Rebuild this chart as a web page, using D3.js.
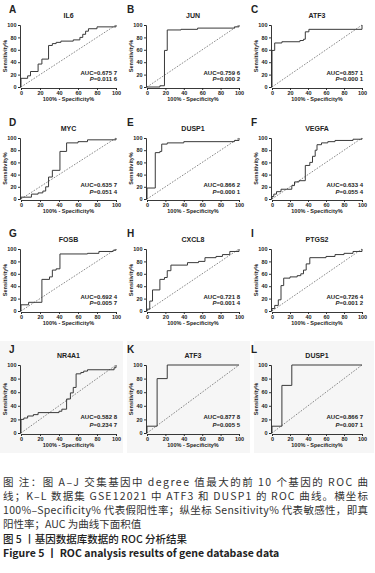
<!DOCTYPE html>
<html>
<head>
<meta charset="utf-8">
<script src="https://cdn.jsdelivr.net/npm/d3@7"></script>
<style>
  body { margin: 0; background: #fff; }
  svg { display: block; }
  .tick text { font-family: Arial, "Liberation Sans", sans-serif; font-size: 5.5px; font-weight: bold; fill: #222; }
  .domain, .tick line { stroke: #222; stroke-width: 0.9; }
</style>
</head>
<body>
<svg width="375" height="573"></svg>
<script>
// panel letters, gene names and stats
const letters = ["A","B","C","D","E","F","G","H","I","J","K","L"];
const genes = ["IL6","JUN","ATF3","MYC","DUSP1","VEGFA","FOSB","CXCL8","PTGS2","NR4A1","ATF3","DUSP1"];
const aucs = ["0.675 7","0.759 6","0.857 1","0.635 7","0.866 2","0.633 4","0.692 4","0.721 8","0.726 4","0.582 8","0.877 8","0.866 7"];
const pvals = ["0.011 6","0.000 2","0.000 1","0.051 4","0.000 1","0.055 4","0.005 7","0.001 4","0.001 2","0.234 7","0.005 5","0.007 1"];
const ticks = [0, 20, 40, 60, 80, 100];

// ROC step corners (100% - specificity, sensitivity)
const fprA = [0,0,7,10,18,22,29,33,37,42,55,62,65,68,71,80,100];
const tprA = [0,14,18,25,37,45,67,70,72,74,76,80,85,90,94,97,100];
const fprB = [0,14,19,22,37,55,95,100];
const tprB = [0,2,59,92,93,95,97,100];
const fprC = [0,0,3,11,31,35,37,41,100];
const tprC = [0,59,71,73,75,77,89,93,100];
const fprD = [0,0,11,18,23,26,29,33,41,48,60,70,100];
const tprD = [0,3,8,10,13,20,36,47,78,92,94,97,100];
const fprE = [0,0,9,14,16,22,40,95,100];
const tprE = [0,18,76,78,90,92,94,96,100];
const fprF = [0,0,2,5,10,22,25,30,37,42,45,48,50,55,62,70,90,100];
const tprF = [0,4,8,12,16,22,28,30,55,60,70,80,89,92,94,96,98,100];
const fprG = [0,0,8,22,30,33,37,41,70,82,97,100];
const tprG = [0,10,14,51,55,66,68,92,93,96,98,100];
const fprH = [0,0,3,6,14,19,22,26,44,56,63,75,82,90,100];
const tprH = [0,3,16,34,51,54,65,74,78,80,86,88,91,96,100];
const fprI = [0,0,3,7,10,13,20,28,32,35,38,42,60,70,80,90,100];
const tprI = [0,4,9,18,41,53,55,57,60,66,76,86,88,91,93,96,100];
const fprJ = [0,0,3,7,13,18,40,43,48,52,55,58,63,66,70,98,100];
const tprJ = [0,20,22,25,27,30,32,35,50,59,67,87,89,91,93,96,100];
const fprK = [0,0,11,22,100];
const tprK = [0,10,80,100,100];
const fprL = [0,0,11,22,100];
const tprL = [0,10,70,100,100];

const fprs = [fprA,fprB,fprC,fprD,fprE,fprF,fprG,fprH,fprI,fprJ,fprK,fprL];
const tprs = [tprA,tprB,tprC,tprD,tprE,tprF,tprG,tprH,tprI,tprJ,tprK,tprL];

const captionLines = [
  "图 注：图 A–J 交集基因中 degree 值最大的前 10 个基因的 ROC 曲",
  "线；K–L 数据集 GSE12021 中 ATF3 和 DUSP1 的 ROC 曲线。横坐标",
  "100%–Specificity% 代表假阳性率；纵坐标 Sensitivity% 代表敏感性，即真",
  "阳性率；AUC 为曲线下面积值"
];
const figTitleCn = "图 5 丨基因数据库数据的 ROC 分析结果";
const figTitleEn = "Figure 5 丨 ROC analysis results of gene database data";

const svg = d3.select("svg");
const font = "Arial, 'Liberation Sans', sans-serif";

// plot frames for each column / row
const cols = [[21, 116], [147, 239], [272, 362]];
const rows = [[25, 87], [138, 199], [249, 311], [365, 433]];
const letterX = [9, 127, 251];

// faint background behind the bottom row
[[0, 123], [127, 250], [254, 374]].forEach(c => {
  svg.append("rect")
    .attr("x", c[0]).attr("y", 341)
    .attr("width", c[1] - c[0]).attr("height", 112)
    .attr("fill", "#f6f6f6");
});

letters.forEach((letter, i) => {
  const c = cols[i % 3], r = rows[Math.floor(i / 3)];
  const x = d3.scaleLinear().domain([0, 100]).range(c);
  const y = d3.scaleLinear().domain([0, 100]).range([r[1], r[0]]);
  const g = svg.append("g");

  // reference diagonal
  g.append("line")
    .attr("x1", x(0)).attr("y1", y(0))
    .attr("x2", x(100)).attr("y2", y(100))
    .attr("stroke", "#555").attr("stroke-width", 0.7)
    .attr("stroke-dasharray", "1.6,1.4");

  // ROC curve
  const pts = fprs[i].map((f, k) => [f, tprs[i][k]]);
  g.append("path")
    .datum(pts)
    .attr("fill", "none")
    .attr("stroke", "#3a3a3a")
    .attr("stroke-width", 1)
    .attr("d", d3.line().x(d => x(d[0])).y(d => y(d[1])).curve(d3.curveStepAfter));

  g.append("g")
    .attr("transform", `translate(0,${r[1] + 1})`)
    .call(d3.axisBottom(x).tickValues(ticks).tickSize(2).tickPadding(1.5));
  g.append("g")
    .attr("transform", `translate(${c[0] - 1},0)`)
    .call(d3.axisLeft(y).tickValues(ticks).tickSize(2).tickPadding(1.5));

  // titles
  g.append("text")
    .attr("x", (c[0] + c[1]) / 2).attr("y", r[0] - 7)
    .attr("text-anchor", "middle")
    .attr("font-family", font).attr("font-size", 7).attr("font-weight", "bold")
    .attr("fill", "#222")
    .text(genes[i]);
  g.append("text")
    .attr("x", letterX[i % 3]).attr("y", r[0] - 12)
    .attr("font-family", font).attr("font-size", 10).attr("font-weight", "bold")
    .attr("fill", "#222")
    .text(letter);
  g.append("text")
    .attr("x", (c[0] + c[1]) / 2).attr("y", r[1] + 14)
    .attr("text-anchor", "middle")
    .attr("font-family", font).attr("font-size", 5.5).attr("font-weight", "bold")
    .attr("fill", "#222")
    .text("100% - Specificity%");
  g.append("text")
    .attr("transform", `translate(${c[0] - 14},${(r[0] + r[1]) / 2}) rotate(-90)`)
    .attr("text-anchor", "middle")
    .attr("font-family", font).attr("font-size", 5.5).attr("font-weight", "bold")
    .attr("fill", "#222")
    .text("Sensitivity%");

  // AUC and P
  g.append("text")
    .attr("x", x(100) + 1).attr("y", y(20))
    .attr("text-anchor", "end")
    .attr("font-family", font).attr("font-size", 6).attr("font-weight", "bold")
    .attr("fill", "#222")
    .text("AUC=" + aucs[i]);
  const pt = g.append("text")
    .attr("x", x(100) + 1).attr("y", y(9))
    .attr("text-anchor", "end")
    .attr("font-family", font).attr("font-size", 6).attr("font-weight", "bold")
    .attr("fill", "#222");
  pt.append("tspan").attr("font-style", "italic").text("P");
  pt.append("tspan").text("=" + pvals[i]);
});

// caption
const cjk = "'Noto Sans CJK SC', 'Noto Sans', sans-serif";
captionLines.forEach((line, i) => {
  const t = svg.append("text")
    .attr("x", 3).attr("y", 486 + i * 14)
    .attr("font-family", cjk).attr("font-size", 10.5)
    .attr("fill", "#333")
    .text(line);
  if (i < 3) t.attr("textLength", 365).attr("lengthAdjust", "spacing");
});
svg.append("text")
  .attr("x", 3).attr("y", 543)
  .attr("font-family", cjk).attr("font-size", 10.5).attr("font-weight", 500)
  .attr("fill", "#222")
  .text(figTitleCn);
svg.append("text")
  .attr("x", 3).attr("y", 557)
  .attr("font-family", cjk).attr("font-size", 10.5).attr("font-weight", "bold")
  .attr("fill", "#222")
  .text(figTitleEn);
</script>
</body>
</html>
